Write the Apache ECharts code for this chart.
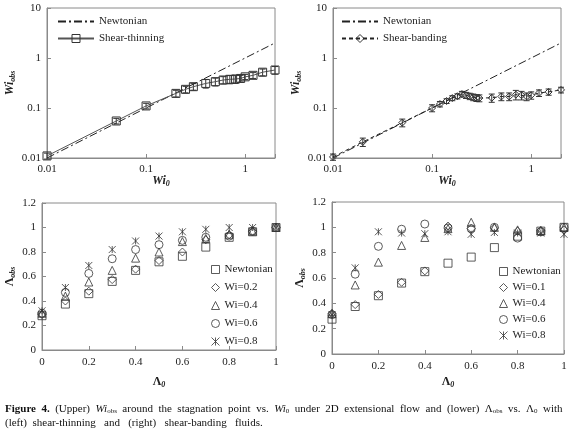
<!DOCTYPE html>
<html>
<head>
<meta charset="utf-8">
<script src="https://cdn.jsdelivr.net/npm/echarts@6/dist/echarts.min.js"></script>
<style>
  html, body { margin: 0; padding: 0; background: #fff; }
  #chartArea { width: 576px; height: 435px; }
</style>
</head>
<body>
<div id="chartArea"></div>
<script>
// upper left: shear-thinning
var wi0Thin = [0.01, 0.05, 0.1, 0.2, 0.25, 0.3, 0.4, 0.5, 0.6, 0.7, 0.8, 0.9, 1.0, 1.2, 1.5, 2.0];
var wiObsThin = [0.011, 0.055, 0.11, 0.196, 0.236, 0.267, 0.31, 0.336, 0.363, 0.375, 0.38, 0.39, 0.42, 0.45, 0.52, 0.575];
var wiErrThin = [0.0015, 0.007, 0.014, 0.03, 0.035, 0.04, 0.06, 0.06, 0.06, 0.07, 0.07, 0.06, 0.05, 0.06, 0.08, 0.1];

// upper right: shear-banding
var wi0Band = [0.01, 0.02, 0.05, 0.1, 0.12, 0.14, 0.16, 0.18, 0.2, 0.22, 0.24, 0.26, 0.28, 0.3, 0.4, 0.5, 0.6, 0.7, 0.8, 0.9, 1.0, 1.2, 1.5, 2.0];
var wiObsBand = [0.0105, 0.021, 0.051, 0.1, 0.12, 0.138, 0.158, 0.172, 0.19, 0.18, 0.172, 0.165, 0.16, 0.158, 0.16, 0.17, 0.17, 0.185, 0.18, 0.17, 0.18, 0.2, 0.21, 0.23];
var wiErrBand = [0.0015, 0.004, 0.009, 0.016, 0.015, 0.015, 0.018, 0.02, 0.025, 0.025, 0.025, 0.025, 0.025, 0.025, 0.03, 0.03, 0.03, 0.04, 0.035, 0.03, 0.03, 0.03, 0.03, 0.03];

// Newtonian reference line (y = x)
var newtonX = [0.01, 2];

// lower panels
var lambda0 = [0, 0.1, 0.2, 0.3, 0.4, 0.5, 0.6, 0.7, 0.8, 0.9, 1.0];
var thinNewt = [0.28, 0.375, 0.46, 0.56, 0.65, 0.72, 0.765, 0.84, 0.92, 0.965, 1.0];
var thinWi02 = [0.29, 0.40, 0.48, 0.575, 0.66, 0.73, 0.80, 0.90, 0.94, 0.97, 1.0];
var thinWi04 = [0.30, 0.44, 0.555, 0.65, 0.75, 0.80, 0.885, 0.91, 0.945, 0.97, 1.0];
var thinWi06 = [0.30, 0.47, 0.625, 0.745, 0.82, 0.86, 0.895, 0.92, 0.93, 0.97, 1.0];
var thinWi08 = [0.32, 0.51, 0.69, 0.82, 0.89, 0.93, 0.965, 0.985, 1.0, 1.0, 1.0];

var bandNewt = [0.275, 0.375, 0.46, 0.56, 0.65, 0.717, 0.765, 0.84, 0.93, 0.97, 1.0];
var bandWi01 = [0.32, 0.39, 0.47, 0.566, 0.656, 1.01, 0.99, 0.995, 0.97, 0.975, 0.98];
var bandWi04 = [0.32, 0.545, 0.725, 0.857, 0.92, 0.99, 1.04, 1.0, 0.98, 0.975, 1.0];
var bandWi06 = [0.31, 0.63, 0.85, 0.985, 1.026, 0.995, 0.99, 1.0, 0.915, 0.965, 1.0];
var bandWi08 = [0.31, 0.68, 0.965, 0.955, 0.95, 0.965, 0.945, 0.96, 0.955, 0.955, 0.945];

var legendText = {
    tlNewt: 'Newtonian', tlThin: 'Shear-thinning',
    trNewt: 'Newtonian', trBand: 'Shear-banding',
    blNewt: 'Newtonian', bl02: 'Wi=0.2', bl04: 'Wi=0.4', bl06: 'Wi=0.6', bl08: 'Wi=0.8',
    brNewt: 'Newtonian', br01: 'Wi=0.1', br04: 'Wi=0.4', br06: 'Wi=0.6', br08: 'Wi=0.8'
};

var SERIF = '"Liberation Serif", "DejaVu Serif", serif';
var INK = '#222';
var AXIS = '#8a8a8a';
var STAR = 'path://M0,0L10,10M10,0L0,10M5,0L5,10';
var CLEAR = 'rgba(255,255,255,0)';

var myChart = echarts.init(document.getElementById('chartArea'));

function pairs(xs, ys) {
    return xs.map(function(x, i) { return [x, ys[i]]; });
}

function isDecade(v) {
    var l = Math.log(v) / Math.LN10;
    return Math.abs(l - Math.round(l)) < 1e-6;
}

function logLabel(v) {
    if (!isDecade(v)) return '';
    var e = Math.round(Math.log(v) / Math.LN10);
    return e < 0 ? Math.pow(10, e).toFixed(-e) : String(Math.pow(10, e));
}

var labelStyle = { fontFamily: SERIF, fontSize: 11, color: INK };

var subRich = {
    a: { fontFamily: SERIF, fontSize: 12, fontStyle: 'italic', fontWeight: 'bold', color: INK, verticalAlign: 'top', lineHeight: 13 },
    g: { fontFamily: SERIF, fontSize: 12, fontWeight: 'bold', color: INK, verticalAlign: 'top', lineHeight: 13 },
    b: { fontFamily: SERIF, fontSize: 8, fontWeight: 'bold', fontStyle: 'italic', color: INK, verticalAlign: 'bottom', lineHeight: 9, padding: [7, 0, 0, 0] }
};

function baseAxis(idx, name, gap) {
    return {
        gridIndex: idx, name: name, nameLocation: 'middle', nameGap: gap,
        nameMoveOverlap: false,
        nameTextStyle: { rich: subRich },
        axisLine: { lineStyle: { color: AXIS } },
        axisTick: { inside: true, length: 4, lineStyle: { color: AXIS } },
        splitLine: { show: false }
    };
}

function logXAxis(idx) {
    return Object.assign(baseAxis(idx, '{a|Wi}{b|0}', 17), {
        type: 'log', logBase: 10, min: 0.01, max: 2,
        axisLabel: Object.assign({ formatter: logLabel, margin: 6 }, labelStyle)
    });
}

function logYAxis(idx) {
    return Object.assign(baseAxis(idx, '{a|Wi}{b|obs}', 30), {
        type: 'log', logBase: 10, min: 0.01, max: 10, nameRotate: 90,
        axisLabel: Object.assign({ formatter: logLabel, margin: 6 }, labelStyle)
    });
}

function linXAxis(idx, gap) {
    return Object.assign(baseAxis(idx, '{g|Λ}{b|0}', gap), {
        type: 'value', min: 0, max: 1, interval: 0.2,
        axisLabel: Object.assign({ margin: 7 }, labelStyle)
    });
}

function linYAxis(idx) {
    return Object.assign(baseAxis(idx, '{g|Λ}{b|obs}', 25), {
        type: 'value', min: 0, max: 1.2, interval: 0.2, nameRotate: 90,
        axisLabel: Object.assign({ margin: 6 }, labelStyle)
    });
}

function errSeries(gi, xs, ys, es) {
    return {
        type: 'custom', xAxisIndex: gi, yAxisIndex: gi, silent: true, z: 1,
        data: xs.map(function(x, i) { return [x, ys[i] - es[i], ys[i] + es[i]]; }),
        encode: { x: 0, y: [1, 2] },
        renderItem: function(params, api) {
            var x = api.value(0);
            var lo = api.coord([x, api.value(1)]);
            var hi = api.coord([x, api.value(2)]);
            var w = 3;
            var st = { stroke: '#333', lineWidth: 1 };
            return {
                type: 'group',
                children: [
                    { type: 'line', shape: { x1: lo[0], y1: lo[1], x2: hi[0], y2: hi[1] }, style: st },
                    { type: 'line', shape: { x1: lo[0] - w, y1: lo[1], x2: lo[0] + w, y2: lo[1] }, style: st },
                    { type: 'line', shape: { x1: hi[0] - w, y1: hi[1], x2: hi[0] + w, y2: hi[1] }, style: st }
                ]
            };
        }
    };
}

function hollow(name, gi, xs, ys, symbol, size) {
    return {
        name: name, type: 'scatter', xAxisIndex: gi, yAxisIndex: gi,
        symbol: symbol, symbolSize: size,
        itemStyle: { color: CLEAR, borderColor: '#333', borderWidth: 1 },
        data: pairs(xs, ys), z: 3
    };
}

function newtonLine(name, gi) {
    return {
        name: name, type: 'line', xAxisIndex: gi, yAxisIndex: gi,
        symbol: 'none', data: pairs(newtonX, newtonX),
        itemStyle: { color: CLEAR, borderColor: CLEAR, borderWidth: 0 },
        lineStyle: { color: '#222', width: 1, type: [8, 3, 2, 3] }, z: 2
    };
}

var legendBase = {
    orient: 'vertical', padding: 0,
    textStyle: { fontFamily: SERIF, fontSize: 11, color: INK },
    itemStyle: { borderWidth: 1 },
    formatter: function(n) { return legendText[n]; },
    selectedMode: false
};

// caption words are spread with extra spaces, the scan is justified
var captionLine1 = '{b|Figure  4.}  (Upper)  {i|Wi}{s|obs}  around  the  stagnation  point  vs.  {i|Wi}{s|0}  under  2D  extensional  flow  and  (lower)  Λ{s|obs}  vs.  Λ{s|0}  with';
var captionLine2 = '(left)  shear-thinning   and   (right)   shear-banding   fluids.';

var option = {
    animation: false,
    backgroundColor: '#fff',
    grid: [
        { left: 47, top: 8, width: 228, height: 150, show: true, borderColor: AXIS, borderWidth: 1 },
        { left: 333, top: 8, width: 228, height: 150, show: true, borderColor: AXIS, borderWidth: 1 },
        { left: 42, top: 203, width: 234, height: 147, show: true, borderColor: AXIS, borderWidth: 1 },
        { left: 332, top: 202, width: 232, height: 152, show: true, borderColor: AXIS, borderWidth: 1 }
    ],
    xAxis: [logXAxis(0), logXAxis(1), linXAxis(2, 26), linXAxis(3, 22)],
    yAxis: [logYAxis(0), logYAxis(1), linYAxis(2), linYAxis(3)],
    legend: [
        Object.assign({}, legendBase, { left: 57, top: 16, itemWidth: 36, itemHeight: 10, itemGap: 6, data: ['tlNewt', 'tlThin'] }),
        Object.assign({}, legendBase, { left: 341, top: 16, itemWidth: 36, itemHeight: 10, itemGap: 6, data: ['trNewt', 'trBand'] }),
        Object.assign({}, legendBase, { left: 211, top: 264, itemWidth: 8, itemHeight: 8, itemGap: 7, data: ['blNewt', 'bl02', 'bl04', 'bl06', 'bl08'] }),
        Object.assign({}, legendBase, { left: 499, top: 266, itemWidth: 8, itemHeight: 8, itemGap: 5, data: ['brNewt', 'br01', 'br04', 'br06', 'br08'] })
    ],
    series: [
        newtonLine('tlNewt', 0),
        errSeries(0, wi0Thin, wiObsThin, wiErrThin),
        {
            name: 'tlThin', type: 'line', xAxisIndex: 0, yAxisIndex: 0,
            symbol: 'rect', symbolSize: 8, showAllSymbol: true,
            lineStyle: { color: '#555', width: 1 },
            itemStyle: { color: CLEAR, borderColor: '#333', borderWidth: 1 },
            data: pairs(wi0Thin, wiObsThin), z: 3
        },
        newtonLine('trNewt', 1),
        errSeries(1, wi0Band, wiObsBand, wiErrBand),
        {
            name: 'trBand', type: 'line', xAxisIndex: 1, yAxisIndex: 1,
            symbol: 'diamond', symbolSize: 7, showAllSymbol: true,
            lineStyle: { color: '#222', width: 1, type: [4, 3] },
            itemStyle: { color: CLEAR, borderColor: '#333', borderWidth: 1 },
            data: pairs(wi0Band, wiObsBand), z: 3
        },
        hollow('blNewt', 2, lambda0, thinNewt, 'rect', 8),
        hollow('bl02', 2, lambda0, thinWi02, 'diamond', 8),
        hollow('bl04', 2, lambda0, thinWi04, 'triangle', 8),
        hollow('bl06', 2, lambda0, thinWi06, 'circle', 8),
        hollow('bl08', 2, lambda0, thinWi08, STAR, 7),
        hollow('brNewt', 3, lambda0, bandNewt, 'rect', 8),
        hollow('br01', 3, lambda0, bandWi01, 'diamond', 8),
        hollow('br04', 3, lambda0, bandWi04, 'triangle', 8),
        hollow('br06', 3, lambda0, bandWi06, 'circle', 8),
        hollow('br08', 3, lambda0, bandWi08, STAR, 7)
    ],
    graphic: [
        {
            type: 'text', left: 5, top: 402,
            style: {
                text: captionLine1 + '\n' + captionLine2,
                font: '11px ' + SERIF,
                fill: '#111',
                lineHeight: 14,
                rich: {
                    b: { fontFamily: SERIF, fontSize: 11, fontWeight: 'bold', fill: '#111' },
                    i: { fontFamily: SERIF, fontSize: 11, fontStyle: 'italic', fill: '#111' },
                    s: { fontFamily: SERIF, fontSize: 7, fill: '#111', padding: [5, 0, 0, 0] }
                }
            }
        }
    ]
};

myChart.setOption(option);
</script>
</body>
</html>
